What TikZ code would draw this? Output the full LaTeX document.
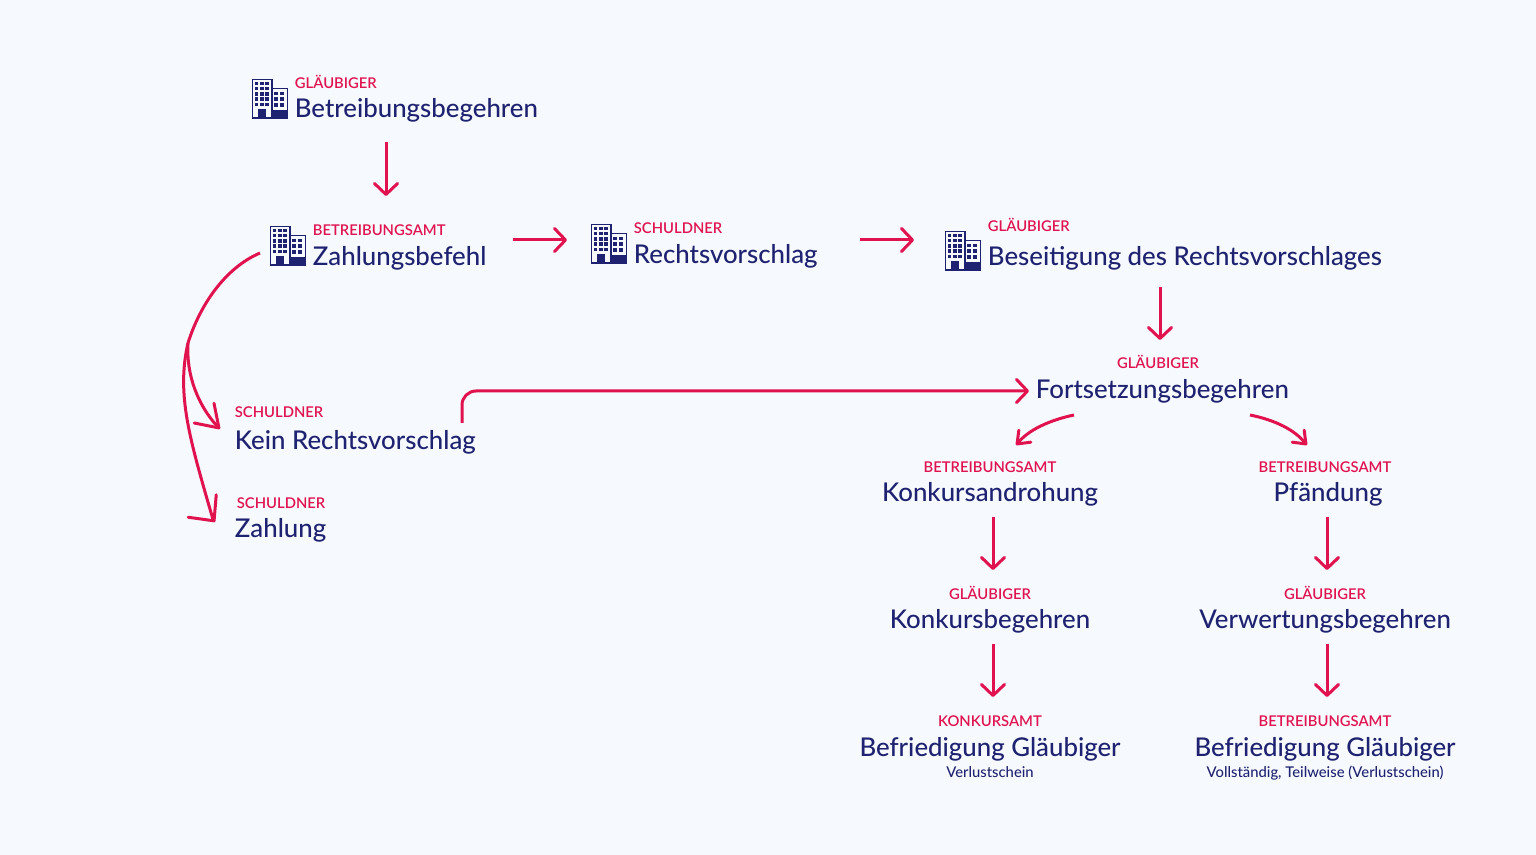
\documentclass[tikz,border=0pt]{standalone}
\usepackage{fontspec}
\setmainfont{Lato Medium}
\newfontfamily\rolefont{Lato Semibold}
\usetikzlibrary{arrows.meta}
\definecolor{bgblue}{HTML}{F6FAFE}
\definecolor{navy}{HTML}{1F2270}
\definecolor{crimson}{HTML}{E0134F}
\tikzset{
  role/.style={text=crimson, inner sep=0pt, font=\rolefont\fontsize{7.4pt}{9pt}\selectfont},
  title/.style={text=navy, inner sep=0pt, font=\fontsize{12.9pt}{16pt}\selectfont},
  note/.style={text=navy, inner sep=0pt, font=\fontsize{7.4pt}{9pt}\selectfont},
  flow/.style={crimson, line width=1.5pt, -{Straight Barb[length=5.5pt,width=11.5pt,line width=1.5pt,round]}},
  flowA/.style={crimson, line width=1.5pt, -{Straight Barb[length=10.5pt,width=14pt,line width=1.5pt,round]}},
  flowB/.style={crimson, line width=1.5pt, -{Straight Barb[length=9.5pt,width=18pt,line width=1.5pt,round]}},
  flowC/.style={crimson, line width=1.5pt, -{Straight Barb[length=5.5pt,width=8.5pt,line width=1.5pt,round]}},
  building/.pic={
    \draw[navy, line width=0.8pt] (0.5,0.5) rectangle (20,39);
    \draw[navy, line width=0.8pt] (20,9.5) rectangle (35.5,39);
    \fill[navy] (20,31) rectangle (35.5,39);
    \fill[navy] (6.3,30) rectangle (14,39);
    \foreach \i in {0,1,2}
      \foreach \j in {0,1,2,3,4}
        \fill[navy] (2.5+\i*5.4,2.6+\j*5.3) rectangle +(3.6,3.6);
    \foreach \i in {0,1}
      \foreach \j in {0,1,2}
        \fill[navy] (22.3+\i*5.7,12.6+\j*5.8) rectangle +(3.6,3.6);
  }
}
\begin{document}
\begin{tikzpicture}[x=0.5pt,y=-0.5pt]
  \fill[bgblue] (0,0) rectangle (1536,855);
  \useasboundingbox (0,0) rectangle (1536,855);
  % top row
  \pic at (252,79) {building};
  \node[role, anchor=base west] (roleBegehren) at (294.5,88.5) {GLÄUBIGER};
  \node[title, anchor=base west] (begehren) at (294.5,118) {Betreibungsbegehren};
  \pic at (270,226) {building};
  \node[role, anchor=base west] (roleBefehl) at (312.5,235.5) {BETREIBUNGSAMT};
  \node[title, anchor=base west] (befehl) at (312.5,265.5) {Zahlungsbefehl};
  \pic at (591,224) {building};
  \node[role, anchor=base west] (roleVorschlag) at (633.5,233.5) {SCHULDNER};
  \node[title, anchor=base west] (vorschlag) at (633.5,263.5) {Rechtsvorschlag};
  \pic at (945,231) {building};
  \node[role, anchor=base west] (roleBeseitigung) at (987.5,231.5) {GLÄUBIGER};
  \node[title, anchor=base west] (beseitigung) at (987.5,265.5) {Beseitigung des Rechtsvorschlages};
  % left column
  \node[role, anchor=base west] (roleKein) at (234.5,417) {SCHULDNER};
  \node[title, anchor=base west] (kein) at (234.5,449.5) {Kein Rechtsvorschlag};
  \node[role, anchor=base west] (roleZahlung) at (236.5,508) {SCHULDNER};
  \node[title, anchor=base west] (zahlung) at (234.5,537.5) {Zahlung};
  % right part
  \node[role, anchor=base] (roleFort) at (1158,368.5) {GLÄUBIGER};
  \node[title, anchor=base west] (fort) at (1035.5,398.5) {Fortsetzungsbegehren};
  \node[role, anchor=base] (roleDrohung) at (990,472.5) {BETREIBUNGSAMT};
  \node[title, anchor=base] (drohung) at (990,501.5) {Konkursandrohung};
  \node[role, anchor=base] (rolePfand) at (1325,472.5) {BETREIBUNGSAMT};
  \node[title, anchor=base] (pfand) at (1328,501.5) {Pfändung};
  \node[role, anchor=base] (roleKonkurs) at (990,599) {GLÄUBIGER};
  \node[title, anchor=base] (konkurs) at (990,628.5) {Konkursbegehren};
  \node[role, anchor=base] (roleVerwertung) at (1325,599) {GLÄUBIGER};
  \node[title, anchor=base] (verwertung) at (1325,628.5) {Verwertungsbegehren};
  \node[role, anchor=base] (roleAmt) at (990,726) {KONKURSAMT};
  \node[title, anchor=base] (glaeubigerA) at (990,756) {Befriedigung Gläubiger};
  \node[note, anchor=base] (verlust) at (990,777) {Verlustschein};
  \node[role, anchor=base] (roleAmtB) at (1325,726) {BETREIBUNGSAMT};
  \node[title, anchor=base] (glaeubigerB) at (1325,756) {Befriedigung Gläubiger};
  \node[note, anchor=base] (teilweise) at (1325,777) {Vollständig, Teilweise (Verlustschein)};
  % where the two left arrows part
  \coordinate (fork) at (188,343);
  % arrows
  \draw[flow] ([shift={(91.5,24)}]begehren.base west) -- ([shift={(73.5,-39.5)}]roleBefehl.base west);
  \draw[flow] ([shift={(200.5,-25.5)}]befehl.base west) -- ([shift={(-66.5,6.5)}]roleVorschlag.base west);
  \draw[flow] ([shift={(226.5,-23.5)}]vorschlag.base west) -- ([shift={(-73.5,-25.5)}]beseitigung.base west);
  \draw[flow] ([shift={(172.5,21.5)}]beseitigung.base west) -- ([shift={(2,-28.5)}]roleFort.base);
  \draw[flow, rounded corners=7pt] ([shift={(227.5,-26.5)}]kein.base west) |- ([shift={(-6.5,-7.5)}]fort.base west);
  \draw[crimson, line width=1.5pt] ([shift={(-52.5,-12.5)}]befehl.base west) .. controls (225,268) and (200,305) .. (fork);
  % short last pieces set the direction of the big heads
  \draw[flowA] (fork) .. controls (186,375) and (198,405) .. (217,426) -- ([shift={(-14.5,12)}]roleKein.base west);
  \draw[flowB] (fork) .. controls (176,395) and (190,440) .. (213,519.5) -- ([shift={(-21.5,14)}]roleZahlung.base west);
  \draw[flowC] ([shift={(38.5,16.5)}]fort.base west) .. controls (1050,420) and (1028,430) .. (1018,443) -- ([shift={(26,-27.5)}]roleDrohung.base);
  \draw[flowC] ([shift={(214.5,16.5)}]fort.base west) .. controls (1275,420) and (1295,430) .. (1305,443) -- ([shift={(-18,-27.5)}]rolePfand.base);
  \draw[flow] ([shift={(3,15.5)}]drohung.base) -- ([shift={(3,-29)}]roleKonkurs.base);
  \draw[flow] ([shift={(3,15.5)}]konkurs.base) -- ([shift={(3,-29)}]roleAmt.base);
  \draw[flow] ([shift={(-1,15.5)}]pfand.base) -- ([shift={(2,-29)}]roleVerwertung.base);
  \draw[flow] ([shift={(2,15.5)}]verwertung.base) -- ([shift={(2,-29)}]roleAmtB.base);
\end{tikzpicture}
\end{document}
